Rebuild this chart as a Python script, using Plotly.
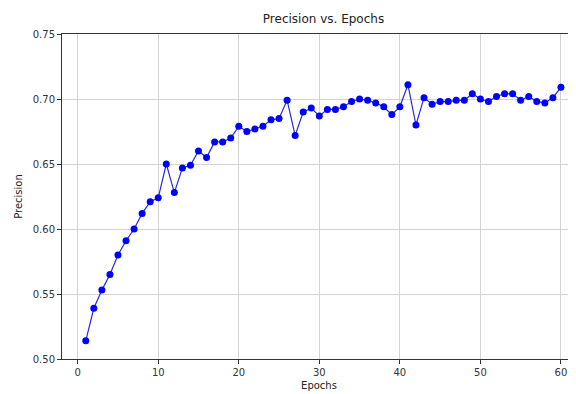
import plotly.graph_objects as go

epochs = list(range(1, 61))
precision = [
    0.514, 0.539, 0.553, 0.565, 0.580, 0.591, 0.600, 0.612, 0.621, 0.624,
    0.650, 0.628, 0.647, 0.649, 0.660, 0.655, 0.667, 0.667, 0.670, 0.679,
    0.675, 0.677, 0.679, 0.684, 0.685, 0.699, 0.672, 0.690, 0.693, 0.687,
    0.692, 0.692, 0.694, 0.698, 0.700, 0.699, 0.697, 0.694, 0.688, 0.694,
    0.711, 0.680, 0.701, 0.696, 0.698, 0.698, 0.699, 0.699, 0.704, 0.700,
    0.698, 0.702, 0.704, 0.704, 0.699, 0.702, 0.698, 0.697, 0.701, 0.709,
]
x_ticks = [0, 10, 20, 30, 40, 50, 60]
y_ticks = [0.50, 0.55, 0.60, 0.65, 0.70, 0.75]

font = "DejaVu Sans"
axis_col = "#333333"

# page body has an 8px margin, so the figure is sized to fill the rest
W, H = 568, 386

fig = go.Figure()
fig.add_trace(go.Scatter(
    x=epochs, y=precision, mode="lines+markers",
    line=dict(color="#2a2ad8", width=1.2),
    marker=dict(color="#0000ff", size=7),
    showlegend=False,
))

fig.update_layout(
    width=W, height=H,
    margin=dict(l=54, r=0, t=26, b=35, autoexpand=False),
    paper_bgcolor="white", plot_bgcolor="white",
    font=dict(family=font, size=10, color=axis_col),
    title=dict(text="Precision vs. Epochs", x=(323.5 - 8) / W, xref="container",
               xanchor="center", y=1 - 11 / H, yref="container", yanchor="middle",
               font=dict(family=font, size=12, color="#222222")),
)
fig.update_xaxes(
    range=[-1.95, 61.87], tickvals=x_ticks, ticktext=[str(v) for v in x_ticks],
    showgrid=True, gridcolor="#d3d3d3", gridwidth=1, zeroline=False,
    showline=True, linecolor=axis_col, linewidth=1, mirror=True,
    ticks="outside", ticklen=4, tickcolor=axis_col,
    title=dict(text="Epochs", font=dict(family=font, size=10, color="#222222"), standoff=4),
)
fig.update_yaxes(
    range=[0.50, 0.75], tickvals=y_ticks, ticktext=[f"{v:.2f}" for v in y_ticks],
    showgrid=True, gridcolor="#d3d3d3", gridwidth=1, zeroline=False,
    showline=True, linecolor=axis_col, linewidth=1, mirror=False,
    ticks="outside", ticklen=4, tickcolor=axis_col,
    title=dict(text="Precision", font=dict(family=font, size=10, color="#222222"), standoff=8),
)

fig.write_html("out.html")
